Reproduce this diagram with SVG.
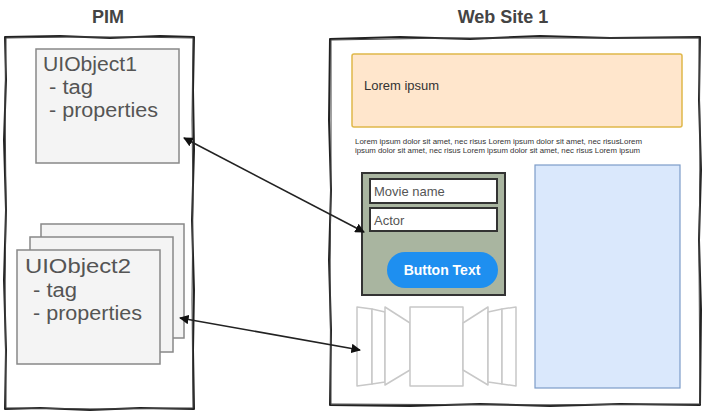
<svg xmlns="http://www.w3.org/2000/svg" width="705" height="412" viewBox="0 0 705 412">
<style>
.title{font-family:"Liberation Sans",Arial,sans-serif;font-weight:bold;font-size:18px;fill:#444;text-anchor:middle}
.sketch{fill:none;stroke:#222;stroke-width:2;stroke-linejoin:round}
.sketch2{fill:none;stroke:#444;stroke-width:1;stroke-linejoin:round}
.obj{fill:#f4f4f4;stroke:#888;stroke-width:1.5}
.objtxt{font-family:"Liberation Sans",Arial,sans-serif;font-size:20px;fill:#555}
.field{fill:#fff;stroke:#333;stroke-width:2}
.fieldtxt{font-family:"Liberation Sans",Arial,sans-serif;font-size:13px;fill:#555}
.cf{fill:#fff;stroke:#c8c8c8;stroke-width:1.5;stroke-linejoin:round}
.small{font-family:"Liberation Sans",Arial,sans-serif;font-size:6.5px;fill:#333}
.conn{fill:none;stroke:#222;stroke-width:1.6}
</style>
<defs>
<marker id="ah" viewBox="0 0 10 10" refX="9" refY="5" markerWidth="6" markerHeight="6" orient="auto-start-reverse" markerUnits="strokeWidth">
<path d="M0,0 L10,5 L0,10 Z" fill="#111"/>
</marker>
</defs>
<rect width="705" height="412" fill="#fff"/>

<g id="pim">
<text class="title" x="108" y="23">PIM</text>
<path class="sketch" d="M5,37 L60,36 L110,38 L160,36 L194,37 L193,90 L194,150 L192,220 L194,290 L193,350 L194,409 L140,408 L90,410 L40,408 L5,409 L6,350 L4,280 L6,210 L4,140 L6,80 Z"/>
<path class="sketch2" d="M6,38 L70,37 L130,37 L193,38 L192,120 L193,200 L192,300 L193,408 L100,409 L6,408 L5,300 L6,200 L5,100 Z"/>
</g>

<g id="uiobject1">
<rect class="obj" x="36" y="49" width="143" height="114"/>
<text class="objtxt" x="43" y="71" textLength="94" lengthAdjust="spacingAndGlyphs">UIObject1</text>
<text class="objtxt" x="49" y="94" textLength="44" lengthAdjust="spacingAndGlyphs">- tag</text>
<text class="objtxt" x="49" y="117" textLength="109" lengthAdjust="spacingAndGlyphs">- properties</text>
</g>

<g id="uiobject2">
<rect class="obj" x="41" y="224" width="143" height="114"/>
<rect class="obj" x="30" y="237" width="143" height="115"/>
<rect class="obj" x="17" y="250" width="143" height="114"/>
<text class="objtxt" x="25" y="273" textLength="106" lengthAdjust="spacingAndGlyphs">UIObject2</text>
<text class="objtxt" x="33" y="297" textLength="44" lengthAdjust="spacingAndGlyphs">- tag</text>
<text class="objtxt" x="33" y="320" textLength="109" lengthAdjust="spacingAndGlyphs">- properties</text>
</g>

<g id="website">
<text class="title" x="503" y="23">Web Site 1</text>
<path class="sketch" d="M330,39 L400,37 L470,39 L540,36 L610,38 L700,37 L699,100 L701,170 L699,240 L701,310 L700,405 L620,404 L550,406 L480,404 L410,406 L330,405 L331,330 L329,260 L331,190 L329,120 Z"/>
<path class="sketch2" d="M331,40 L450,38 L580,38 L699,38 L700,150 L699,260 L700,404 L520,405 L331,404 L330,280 L331,160 Z"/>
</g>

<g id="header">
<rect x="352" y="54" width="330" height="73" rx="2" fill="#ffe6cc" stroke="#e0b84a" stroke-width="1.5"/>
<text x="364" y="90" font-family="'Liberation Sans',Arial,sans-serif" font-size="13" fill="#333">Lorem ipsum</text>
</g>

<g id="paragraph">
<text class="small" x="355" y="144" textLength="287" lengthAdjust="spacingAndGlyphs">Lorem ipsum dolor sit amet, nec risus Lorem ipsum dolor sit amet, nec risusLorem</text>
<text class="small" x="355" y="153" textLength="285" lengthAdjust="spacingAndGlyphs">ipsum dolor sit amet, nec risus Lorem ipsum dolor sit amet, nec risus Lorem ipsum</text>
</g>

<g id="sidebar">
<rect x="535" y="165" width="145" height="223" fill="#dae8fc" stroke="#7c9cc8" stroke-width="1.2"/>
</g>

<g id="form">
<rect x="362" y="173" width="143" height="122" fill="#a9b5a0" stroke="#333" stroke-width="2"/>
<rect class="field" x="370" y="179" width="127" height="24"/>
<text class="fieldtxt" x="374" y="196">Movie name</text>
<rect class="field" x="370" y="208" width="127" height="23"/>
<text class="fieldtxt" x="374" y="225">Actor</text>
<rect x="387" y="252" width="111" height="36" rx="18" fill="#1e8ff0"/>
<text x="442" y="275" text-anchor="middle" font-family="'Liberation Sans',Arial,sans-serif" font-size="14" font-weight="bold" fill="#fff">Button Text</text>
</g>

<g id="coverflow">
<polygon class="cf" points="357,307 372,309 372,384 357,386"/>
<polygon class="cf" points="372,309 385,312 385,382 372,384"/>
<polygon class="cf" points="385,307 410,323 410,370 385,385"/>
<rect class="cf" x="410" y="307" width="53" height="79"/>
<polygon class="cf" points="463,323 488,307 488,385 463,370"/>
<polygon class="cf" points="488,312 502,309 502,384 488,382"/>
<polygon class="cf" points="502,309 516,307 516,386 502,384"/>
</g>

<g id="connectors">
<line class="conn" x1="184" y1="138" x2="364" y2="232" marker-start="url(#ah)" marker-end="url(#ah)"/>
<line class="conn" x1="180" y1="318" x2="360" y2="350" marker-start="url(#ah)" marker-end="url(#ah)"/>
</g>
</svg>
